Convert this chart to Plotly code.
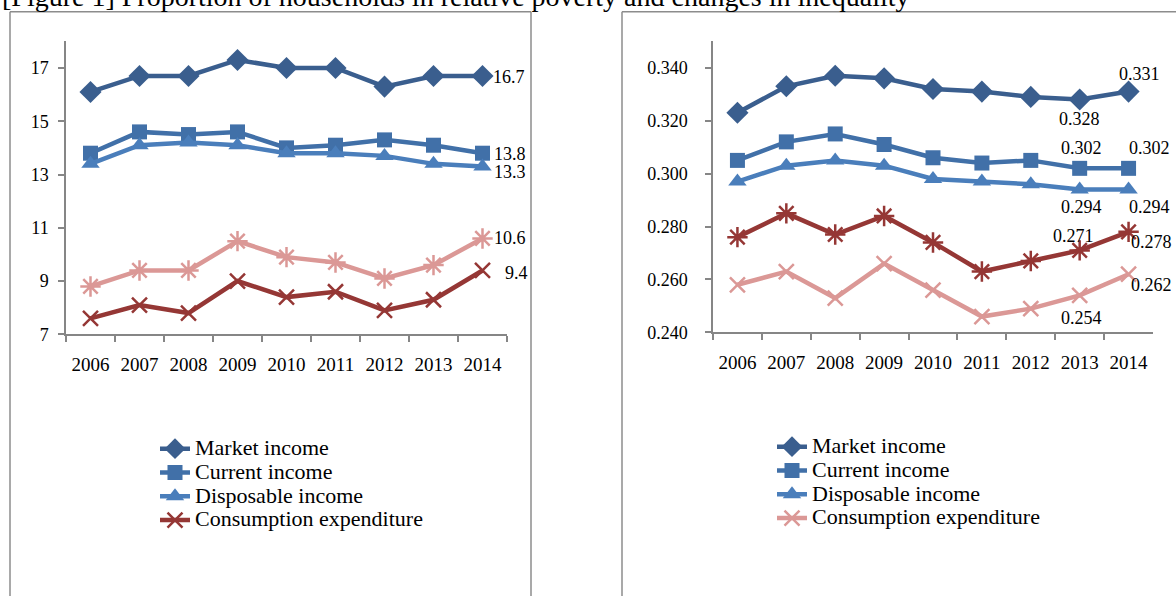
import plotly.graph_objects as go

W, H = 1176, 606

years = ["2006", "2007", "2008", "2009", "2010", "2011", "2012", "2013", "2014"]

# Left panel: proportion of households in relative poverty (%)
left_market = [16.1, 16.7, 16.7, 17.3, 17.0, 17.0, 16.3, 16.7, 16.7]
left_current = [13.8, 14.6, 14.5, 14.6, 14.0, 14.1, 14.3, 14.1, 13.8]
left_disposable = [13.4, 14.1, 14.2, 14.1, 13.8, 13.8, 13.7, 13.4, 13.3]
left_consumption = [7.6, 8.1, 7.8, 9.0, 8.4, 8.6, 7.9, 8.3, 9.4]
left_consumption_b = [8.8, 9.4, 9.4, 10.5, 9.9, 9.7, 9.1, 9.6, 10.6]

# Right panel: Gini coefficient
right_market = [0.323, 0.333, 0.337, 0.336, 0.332, 0.331, 0.329, 0.328, 0.331]
right_current = [0.305, 0.312, 0.315, 0.311, 0.306, 0.304, 0.305, 0.302, 0.302]
right_disposable = [0.297, 0.303, 0.305, 0.303, 0.298, 0.297, 0.296, 0.294, 0.294]
right_consumption = [0.258, 0.263, 0.253, 0.266, 0.256, 0.246, 0.249, 0.254, 0.262]
right_consumption_b = [0.276, 0.285, 0.277, 0.284, 0.274, 0.263, 0.267, 0.271, 0.278]

names = ["Market income", "Current income", "Disposable income", "Consumption expenditure"]
title_text = "[Figure 1] Proportion of households in relative poverty and changes in inequality"

C_MARKET = "#3A5E8E"
C_CURRENT = "#4170A8"
C_DISP = "#4A7EBB"
C_DRED = "#953735"
C_PINK = "#DB9896"

FONT = "Liberation Serif"
LBL = dict(family=FONT, size=18, color="black")


def px_x(p):
    return p / W


def px_y(p):
    return 1 - p / H


def legend_name(n):
    return "<span style='font-size:22px'>" + n + "</span>"


fig = go.Figure()


def add_line(x_ref, y_ref, legend, vals, name, color, symbol, size, open_marker=False,
             showlegend=True):
    if open_marker:
        marker = dict(symbol=symbol, size=size, line=dict(color=color, width=2.5))
    else:
        marker = dict(symbol=symbol, size=size, color=color)
    fig.add_trace(go.Scatter(
        x=years, y=vals, name=legend_name(name), legend=legend, showlegend=showlegend,
        mode="lines+markers", line=dict(color=color, width=4.5), marker=marker,
        xaxis=x_ref, yaxis=y_ref, cliponaxis=False))


# ---------- Left panel ----------
add_line("x", "y", "legend", left_market, names[0], C_MARKET, "diamond", 17)
add_line("x", "y", "legend", left_current, names[1], C_CURRENT, "square", 15)
add_line("x", "y", "legend", left_disposable, names[2], C_DISP, "triangle-up", 16)
add_line("x", "y", "legend", left_consumption_b, names[3] + " (b)", C_PINK,
         "asterisk-open", 17, open_marker=True, showlegend=False)
add_line("x", "y", "legend", left_consumption, names[3], C_DRED, "x-thin-open", 15,
         open_marker=True)

# ---------- Right panel ----------
add_line("x2", "y2", "legend2", right_market, names[0], C_MARKET, "diamond", 17)
add_line("x2", "y2", "legend2", right_current, names[1], C_CURRENT, "square", 15)
add_line("x2", "y2", "legend2", right_disposable, names[2], C_DISP, "triangle-up", 16)
add_line("x2", "y2", "legend2", right_consumption_b, names[3] + " (b)", C_DRED,
         "asterisk-open", 17, open_marker=True, showlegend=False)
add_line("x2", "y2", "legend2", right_consumption, names[3], C_PINK, "x-thin-open", 15,
         open_marker=True)

annotations = []


def label(xref, yref, vals, i, fmt, xanchor, xshift, yshift):
    # category axes: annotation x is the category's serial index
    annotations.append(dict(
        x=i, y=vals[i], xref=xref, yref=yref, text=fmt.format(vals[i]),
        showarrow=False, xanchor=xanchor, yanchor="middle", xshift=xshift,
        yshift=yshift, font=LBL))


# left labels (end values)
label("x", "y", left_market, 8, "{:.1f}", "left", 8, -1)
label("x", "y", left_current, 8, "{:.1f}", "left", 9, -1)
label("x", "y", left_disposable, 8, "{:.1f}", "left", 9, -5)
label("x", "y", left_consumption_b, 8, "{:.1f}", "left", 9, 0)
label("x", "y", left_consumption, 8, "{:.1f}", "left", 20, -3)

# right labels
label("x2", "y2", right_market, 8, "{:.3f}", "center", 11, 18)
label("x2", "y2", right_market, 7, "{:.3f}", "center", 0, -19)
label("x2", "y2", right_current, 7, "{:.3f}", "center", 2, 20)
label("x2", "y2", right_current, 8, "{:.3f}", "center", 21, 20)
label("x2", "y2", right_disposable, 7, "{:.3f}", "center", 2, -17)
label("x2", "y2", right_disposable, 8, "{:.3f}", "center", 21, -17)
label("x2", "y2", right_consumption_b, 7, "{:.3f}", "center", -6, 14)
label("x2", "y2", right_consumption_b, 8, "{:.3f}", "center", 23, -10)
label("x2", "y2", right_consumption, 8, "{:.3f}", "center", 23, -11)
label("x2", "y2", right_consumption, 7, "{:.3f}", "center", 2, -23)

annotations.append(dict(
    text=title_text, xref="paper", yref="paper", x=0, y=px_y(-4),
    xanchor="left", yanchor="middle", showarrow=False,
    font=dict(family=FONT, size=28, color="black")))

AXC = "#868686"
xcommon = dict(type="category", categoryorder="array", categoryarray=years,
               range=[-0.5, 8.5], showline=True, linecolor=AXC, linewidth=1.5,
               ticks="outside", tickson="boundaries", ticklen=6, tickcolor=AXC,
               tickwidth=1.5, showgrid=False, zeroline=False, ticklabelstandoff=12,
               tickangle=0, tickfont=dict(family=FONT, size=19, color="black"))
ycommon = dict(showline=True, linecolor=AXC, linewidth=1.5, ticks="outside",
               ticklen=6, tickcolor=AXC, tickwidth=1.5, showgrid=False,
               zeroline=False, tickfont=dict(family=FONT, size=18, color="black"))

BORDER = dict(color="#8C8C8C", width=1.5)


def vline(xp):
    return dict(type="line", xref="paper", yref="paper", x0=px_x(xp), x1=px_x(xp),
                y0=0, y1=px_y(12), line=BORDER, layer="below")


def hline(xa, xb):
    return dict(type="line", xref="paper", yref="paper", x0=px_x(xa), x1=px_x(xb),
                y0=px_y(12), y1=px_y(12), line=BORDER, layer="below")


fig.update_layout(
    width=W, height=H, margin=dict(l=0, r=0, t=0, b=0),
    paper_bgcolor="white", plot_bgcolor="white", showlegend=True,
    xaxis=dict(domain=[px_x(66), px_x(507)], anchor="y", **xcommon),
    yaxis=dict(domain=[px_y(340), px_y(42)], anchor="x", range=[7, 18],
               tick0=7, dtick=2, ticklabelstandoff=6, **ycommon),
    xaxis2=dict(domain=[px_x(713), px_x(1153)], anchor="y2", **xcommon),
    yaxis2=dict(domain=[px_y(338), px_y(42)], anchor="x2", range=[0.24, 0.35],
                tick0=0.24, dtick=0.02, tickformat=".3f", ticklabelstandoff=14,
                **ycommon),
    legend=dict(x=px_x(155), y=px_y(439), xanchor="left", yanchor="top",
                bgcolor="rgba(0,0,0,0)", font=dict(family=FONT, size=16, color="black"),
                traceorder="normal", borderwidth=0, tracegroupgap=0),
    legend2=dict(x=px_x(772), y=px_y(437), xanchor="left", yanchor="top",
                 bgcolor="rgba(0,0,0,0)", font=dict(family=FONT, size=16, color="black"),
                 traceorder="normal", borderwidth=0, tracegroupgap=0),
    shapes=[vline(10), vline(531), hline(10, 531), vline(622), hline(622, 1176)],
    annotations=annotations,
)

fig.write_html("out.html")
